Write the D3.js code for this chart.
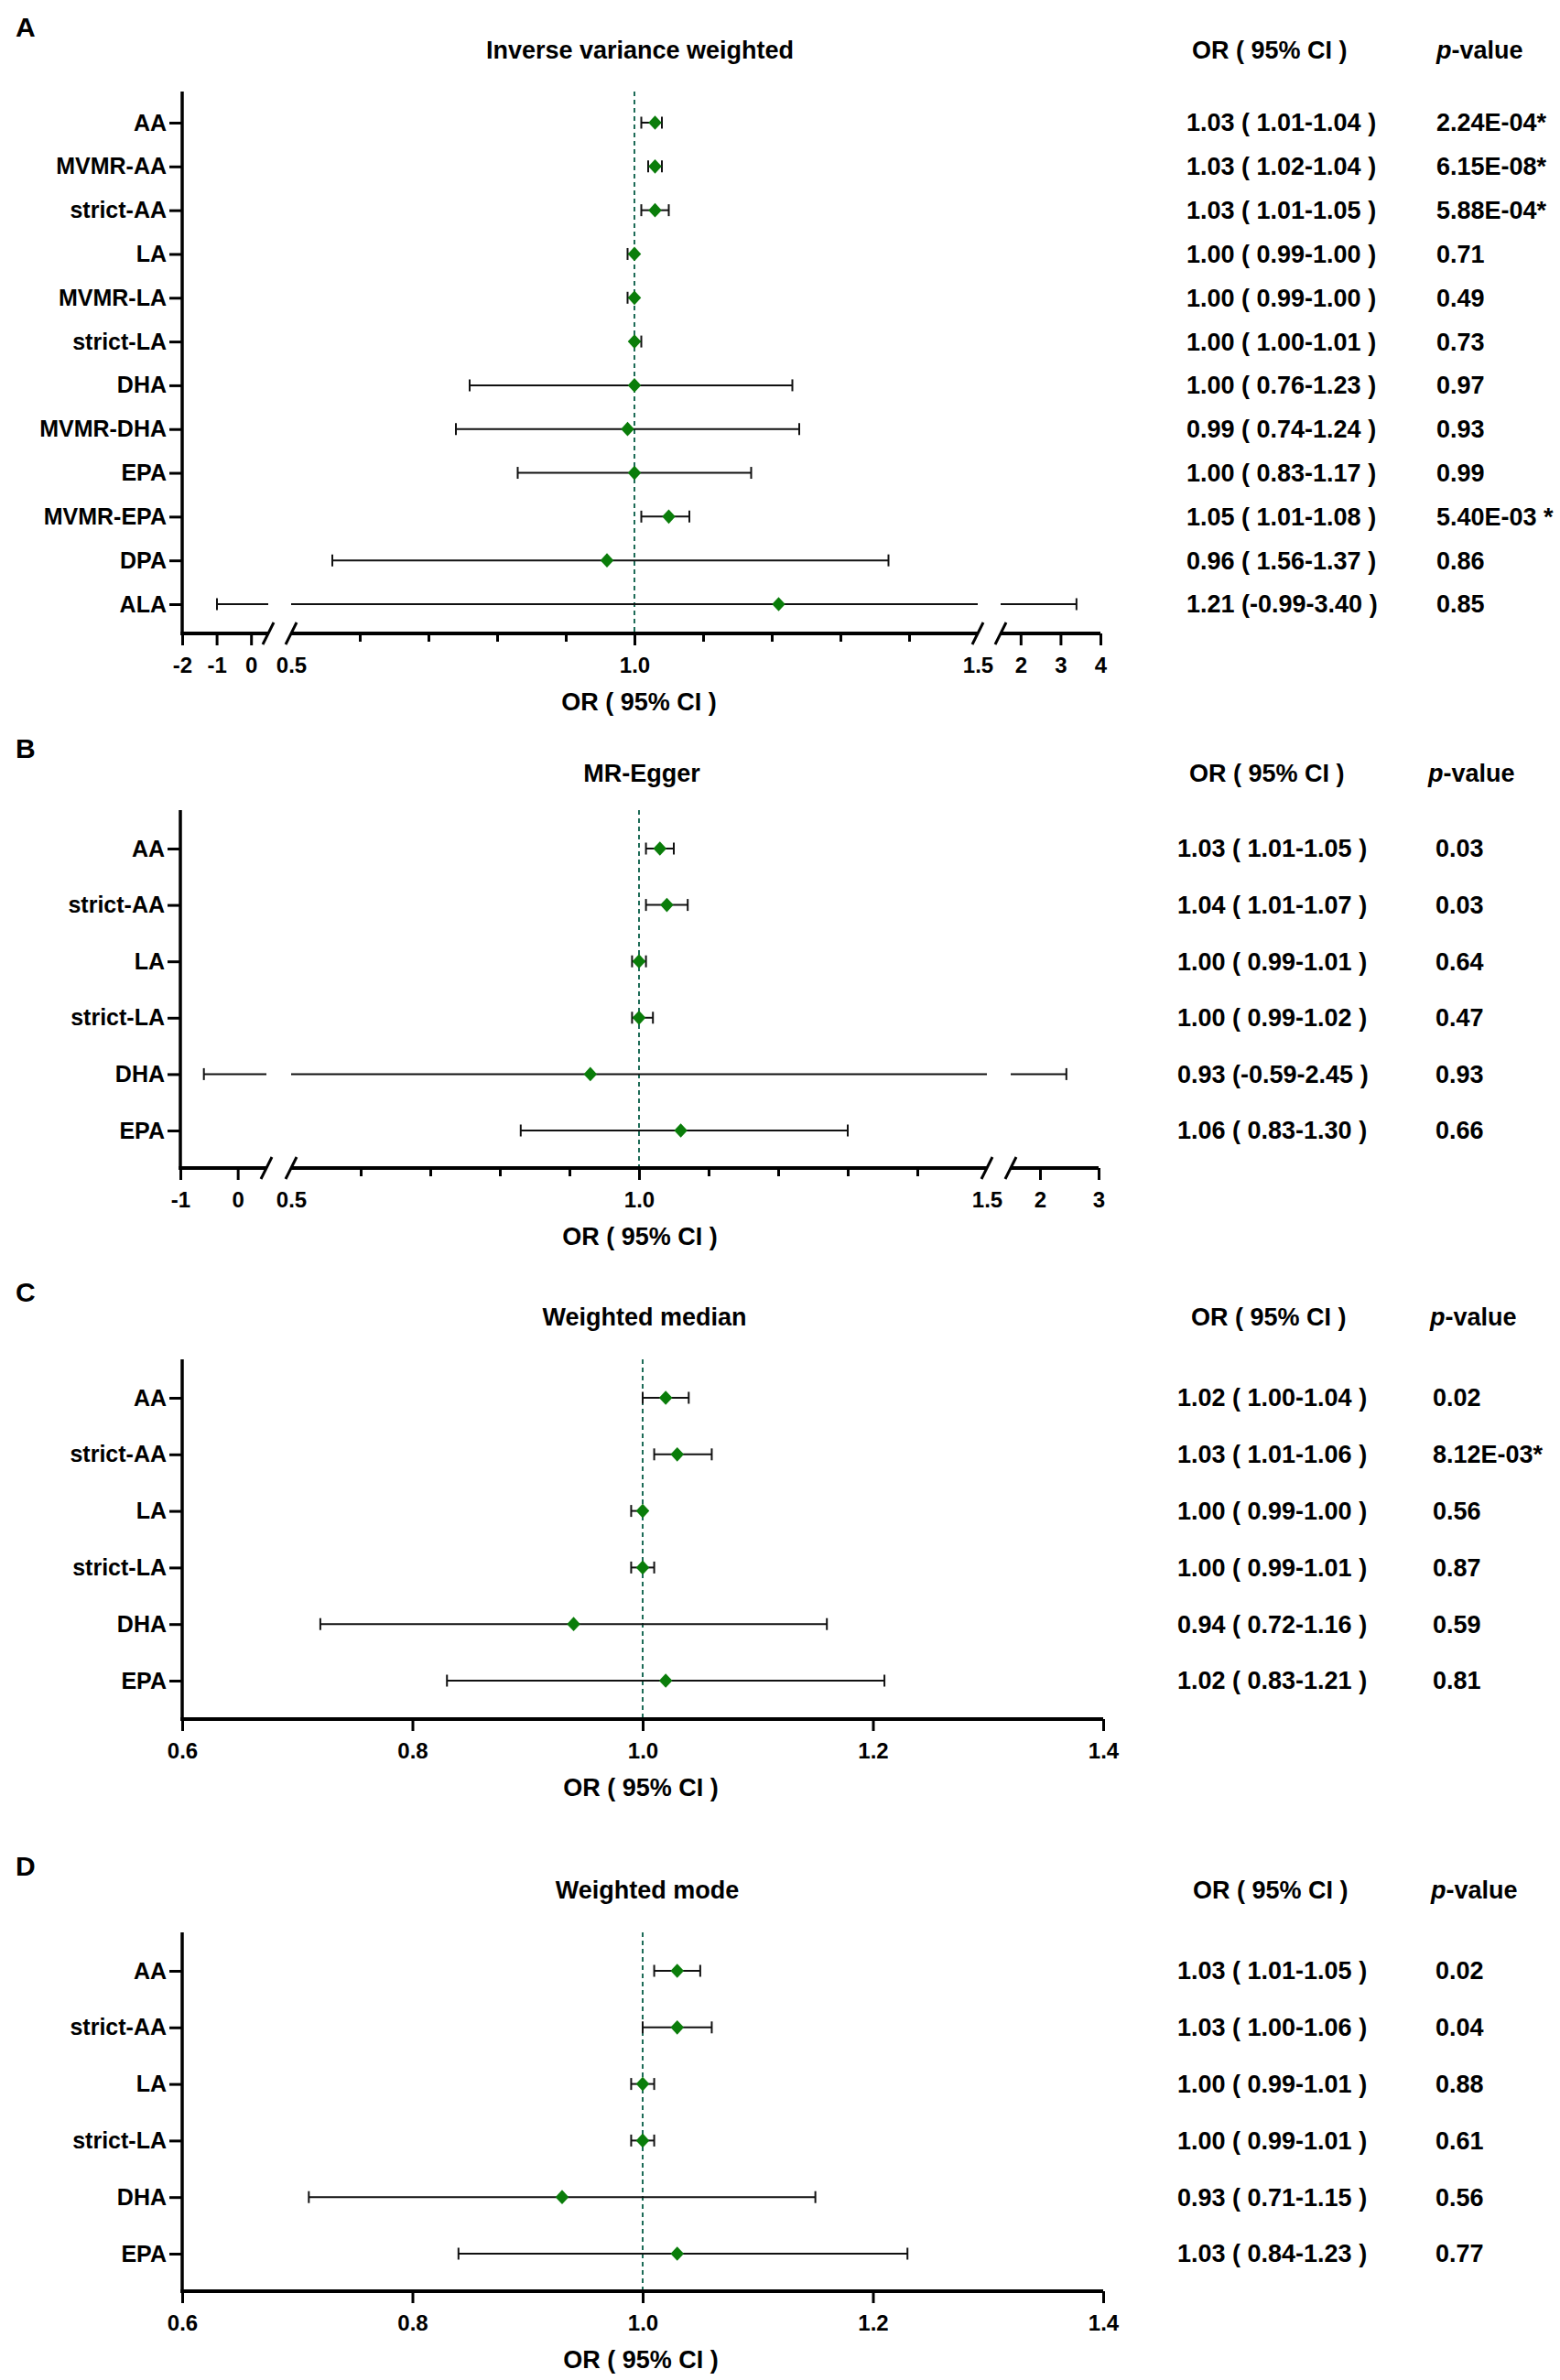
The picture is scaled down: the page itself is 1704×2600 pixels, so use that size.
<!DOCTYPE html>
<html><head><meta charset="utf-8">
<script src="https://cdn.jsdelivr.net/npm/d3@7"></script>
<style>
html,body{margin:0;padding:0;background:#fff;}
svg{display:block;}
text{font-family:"Liberation Sans",Arial,Helvetica,sans-serif;font-weight:bold;fill:#000;white-space:pre;}
</style></head><body>
<svg id="chart" width="1704" height="2600"></svg>
<script>
// ---------------- DATA ----------------
const panelLetters = ["A", "B", "C", "D"];
const titles = ["Inverse variance weighted", "MR-Egger", "Weighted median", "Weighted mode"];

// Panel A: Inverse variance weighted
const labelsA = ["AA", "MVMR-AA", "strict-AA", "LA", "MVMR-LA", "strict-LA", "DHA", "MVMR-DHA", "EPA", "MVMR-EPA", "DPA", "ALA"];
const orA = [1.03, 1.03, 1.03, 1.00, 1.00, 1.00, 1.00, 0.99, 1.00, 1.05, 0.96, 1.21];
const loA = [1.01, 1.02, 1.01, 0.99, 0.99, 1.00, 0.76, 0.74, 0.83, 1.01, 0.56, -0.99];
const hiA = [1.04, 1.04, 1.05, 1.00, 1.00, 1.01, 1.23, 1.24, 1.17, 1.08, 1.37, 3.40];
const orTextA = ["1.03 ( 1.01-1.04 )", "1.03 ( 1.02-1.04 )", "1.03 ( 1.01-1.05 )", "1.00 ( 0.99-1.00 )", "1.00 ( 0.99-1.00 )", "1.00 ( 1.00-1.01 )", "1.00 ( 0.76-1.23 )", "0.99 ( 0.74-1.24 )", "1.00 ( 0.83-1.17 )", "1.05 ( 1.01-1.08 )", "0.96 ( 1.56-1.37 )", "1.21 (-0.99-3.40 )"];
const pTextA = ["2.24E-04*", "6.15E-08*", "5.88E-04*", "0.71", "0.49", "0.73", "0.97", "0.93", "0.99", "5.40E-03 *", "0.86", "0.85"];

// Panels B, C, D share categories
const labelsBCD = ["AA", "strict-AA", "LA", "strict-LA", "DHA", "EPA"];

// Panel B: MR-Egger
const orB = [1.03, 1.04, 1.00, 1.00, 0.93, 1.06];
const loB = [1.01, 1.01, 0.99, 0.99, -0.59, 0.83];
const hiB = [1.05, 1.07, 1.01, 1.02, 2.45, 1.30];
const orTextB = ["1.03 ( 1.01-1.05 )", "1.04 ( 1.01-1.07 )", "1.00 ( 0.99-1.01 )", "1.00 ( 0.99-1.02 )", "0.93 (-0.59-2.45 )", "1.06 ( 0.83-1.30 )"];
const pTextB = ["0.03", "0.03", "0.64", "0.47", "0.93", "0.66"];

// Panel C: Weighted median
const orC = [1.02, 1.03, 1.00, 1.00, 0.94, 1.02];
const loC = [1.00, 1.01, 0.99, 0.99, 0.72, 0.83];
const hiC = [1.04, 1.06, 1.00, 1.01, 1.16, 1.21];
const orTextC = ["1.02 ( 1.00-1.04 )", "1.03 ( 1.01-1.06 )", "1.00 ( 0.99-1.00 )", "1.00 ( 0.99-1.01 )", "0.94 ( 0.72-1.16 )", "1.02 ( 0.83-1.21 )"];
const pTextC = ["0.02", "8.12E-03*", "0.56", "0.87", "0.59", "0.81"];

// Panel D: Weighted mode
const orD = [1.03, 1.03, 1.00, 1.00, 0.93, 1.03];
const loD = [1.01, 1.00, 0.99, 0.99, 0.71, 0.84];
const hiD = [1.05, 1.06, 1.01, 1.01, 1.15, 1.23];
const orTextD = ["1.03 ( 1.01-1.05 )", "1.03 ( 1.00-1.06 )", "1.00 ( 0.99-1.01 )", "1.00 ( 0.99-1.01 )", "0.93 ( 0.71-1.15 )", "1.03 ( 0.84-1.23 )"];
const pTextD = ["0.02", "0.04", "0.88", "0.61", "0.56", "0.77"];

// Axis segments (broken axes) and tick labels
const segDomainsA = [[-2, 0.5], [0.5, 1.5], [1.5, 4]];
const tickValuesA = [-2, -1, 0, 0.5, 1.0, 1.5, 2, 3, 4];
const tickLabelsA = ["-2", "-1", "0", "0.5", "1.0", "1.5", "2", "3", "4"];
const segDomainsB = [[-1, 0.5], [0.5, 1.5], [1.5, 3]];
const tickValuesB = [-1, 0, 0.5, 1.0, 1.5, 2, 3];
const tickLabelsB = ["-1", "0", "0.5", "1.0", "1.5", "2", "3"];
const minorTicksAB = [0.6, 0.7, 0.8, 0.9, 1.1, 1.2, 1.3, 1.4];
const breakTicks = [0.5, 1.5];   // labelled, no tick mark (axis break)
const segDomainsCD = [[0.6, 1.4]];
const tickValuesCD = [0.6, 0.8, 1.0, 1.2, 1.4];
const tickLabelsCD = ["0.6", "0.8", "1.0", "1.2", "1.4"];
const refValue = 1.0;

// ---------------- LAYOUT ----------------
const layouts = [
  {letterY: 29, titleX: 699, titleY: 55, top: 100, firstRow: 134, lastRow: 660, axisY: 692, axisX: 199,
   ranges: [[199, 293], [318, 1068], [1093, 1202]], valX: 1296, pX: 1569, headX: 1302, pHeadX: 1569, axisLabelX: 698},
  {letterY: 817, titleX: 701, titleY: 845, top: 885, firstRow: 927, lastRow: 1235, axisY: 1276, axisX: 197,
   ranges: [[197, 291], [318, 1078], [1104, 1200]], valX: 1286, pX: 1568, headX: 1299, pHeadX: 1560, axisLabelX: 699},
  {letterY: 1411, titleX: 704, titleY: 1439, top: 1485, firstRow: 1527, lastRow: 1836, axisY: 1878, axisX: 199,
   ranges: [[199, 1205]], valX: 1286, pX: 1565, headX: 1301, pHeadX: 1562, axisLabelX: 700},
  {letterY: 2038, titleX: 707, titleY: 2065, top: 2111, firstRow: 2153, lastRow: 2462, axisY: 2503, axisX: 199,
   ranges: [[199, 1205]], valX: 1286, pX: 1568, headX: 1303, pHeadX: 1563, axisLabelX: 700}
];

const panels = [
  {labels: labelsA, or: orA, lo: loA, hi: hiA, orText: orTextA, pText: pTextA, doms: segDomainsA, tv: tickValuesA, tl: tickLabelsA, minor: minorTicksAB},
  {labels: labelsBCD, or: orB, lo: loB, hi: hiB, orText: orTextB, pText: pTextB, doms: segDomainsB, tv: tickValuesB, tl: tickLabelsB, minor: minorTicksAB},
  {labels: labelsBCD, or: orC, lo: loC, hi: hiC, orText: orTextC, pText: pTextC, doms: segDomainsCD, tv: tickValuesCD, tl: tickLabelsCD, minor: []},
  {labels: labelsBCD, or: orD, lo: loD, hi: hiD, orText: orTextD, pText: pTextD, doms: segDomainsCD, tv: tickValuesCD, tl: tickLabelsCD, minor: []}
];

const GREEN = "#0a7d0a";
const REF = "#1d6b57";
const BAR = "#111";

const svg = d3.select("#chart");
svg.append("rect").attr("width", 1704).attr("height", 2600).attr("fill", "#fff");

panels.forEach((P, pi) => {
  const L = layouts[pi];
  const g = svg.append("g");
  const nSeg = P.doms.length;
  const segs = P.doms.map((d, i) => d3.scaleLinear().domain(d).range(L.ranges[i]));
  const segIndex = v => {
    if (nSeg === 3) { if (v < P.doms[1][0]) return 0; if (v > P.doms[1][1]) return 2; return 1; }
    return 0;
  };
  const x = v => segs[segIndex(v)](v);
  const y = d3.scalePoint().domain(P.labels).range([L.firstRow, L.lastRow]);

  // panel letter
  g.append("text").attr("x", 17).attr("y", L.letterY).attr("dy", "0.35em")
    .style("font-size", "30px").text(panelLetters[pi]);
  // title
  g.append("text").attr("x", L.titleX).attr("y", L.titleY).attr("dy", "0.35em")
    .attr("text-anchor", "middle").style("font-size", "27px").text(titles[pi]);
  // headers
  g.append("text").attr("x", L.headX).attr("y", L.titleY).attr("dy", "0.35em")
    .style("font-size", "27px").text("OR ( 95% CI )");
  const ph = g.append("text").attr("x", L.pHeadX).attr("y", L.titleY).attr("dy", "0.35em").style("font-size", "27px");
  ph.append("tspan").style("font-style", "italic").text("p");
  ph.append("tspan").text("-value");

  // reference dashed line
  g.append("line").attr("x1", x(refValue)).attr("x2", x(refValue))
    .attr("y1", L.top).attr("y2", L.axisY)
    .attr("stroke", REF).attr("stroke-width", 2).attr("stroke-dasharray", "5,4");

  // error bars (split across axis segments)
  P.labels.forEach((lab, i) => {
    const lo = P.lo[i], hi = P.hi[i], yy = y(lab);
    P.doms.forEach((d, s) => {
      const a = Math.max(lo, d[0]), b = Math.min(hi, d[1]);
      if (b > a) {
        g.append("line").attr("x1", segs[s](a)).attr("x2", segs[s](b))
          .attr("y1", yy).attr("y2", yy).attr("stroke", BAR).attr("stroke-width", 2);
      }
    });
    [lo, hi].forEach(v => {
      g.append("line").attr("x1", x(v)).attr("x2", x(v)).attr("y1", yy - 6.5).attr("y2", yy + 6.5)
        .attr("stroke", BAR).attr("stroke-width", 2);
    });
  });
  // diamonds
  const sym = d3.symbol().type(d3.symbolSquare).size(106);
  P.labels.forEach((lab, i) => {
    g.append("path").attr("d", sym())
      .attr("transform", `translate(${x(P.or[i])},${y(lab)}) scale(1,1.08) rotate(45)`)
      .attr("fill", GREEN);
  });

  // y axis
  const yAxis = g.append("g").attr("transform", `translate(${L.axisX},0)`)
    .call(d3.axisLeft(y).tickSize(14).tickPadding(3));
  yAxis.select(".domain").remove();
  yAxis.selectAll(".tick line").attr("stroke", "#000").attr("stroke-width", 3);
  yAxis.selectAll(".tick text").style("font-size", "25px").attr("fill", "#000");
  g.append("line").attr("x1", L.axisX).attr("x2", L.axisX).attr("y1", L.top).attr("y2", L.axisY + 2)
    .attr("stroke", "#000").attr("stroke-width", 3.5);

  // x axis segments
  segs.forEach((sc, s) => {
    const d = P.doms[s];
    const r = L.ranges[s];
    g.append("line").attr("x1", s === 0 ? r[0] - 1.75 : r[0]).attr("x2", r[1])
      .attr("y1", L.axisY).attr("y2", L.axisY).attr("stroke", "#000").attr("stroke-width", 4);
    // major ticks & labels
    const tvs = P.tv.filter(v => {
      const k = nSeg === 3 ? segIndex(v) : 0;
      return k === s;
    });
    const ax = g.append("g").attr("transform", `translate(0,${L.axisY})`)
      .call(d3.axisBottom(sc).tickValues(tvs).tickSize(13).tickPadding(13)
        .tickFormat(v => P.tl[P.tv.indexOf(v)]));
    ax.select(".domain").remove();
    ax.selectAll(".tick line").attr("stroke", "#000").attr("stroke-width", 3);
    ax.selectAll(".tick").filter(v => nSeg === 3 && breakTicks.includes(v)).select("line").remove();
    ax.selectAll(".tick text").style("font-size", "24px").attr("fill", "#000");
    // minor ticks
    const mins = P.minor.filter(v => v > d[0] && v < d[1]);
    if (mins.length) {
      const mx = g.append("g").attr("transform", `translate(0,${L.axisY})`)
        .call(d3.axisBottom(sc).tickValues(mins).tickSize(9).tickFormat(""));
      mx.select(".domain").remove();
      mx.selectAll(".tick line").attr("stroke", "#000").attr("stroke-width", 3);
    }
  });
  // break marks
  if (nSeg === 3) {
    [L.ranges[0][1], L.ranges[1][0], L.ranges[1][1], L.ranges[2][0]].forEach(bx => {
      g.append("line").attr("x1", bx - 6).attr("y1", L.axisY + 12).attr("x2", bx + 6).attr("y2", L.axisY - 12)
        .attr("stroke", "#000").attr("stroke-width", 3);
    });
  }
  // axis label
  g.append("text").attr("x", L.axisLabelX).attr("y", L.axisY + 75).attr("dy", "0.35em")
    .attr("text-anchor", "middle").style("font-size", "27px").text("OR ( 95% CI )");

  // right-hand text columns
  P.labels.forEach((lab, i) => {
    g.append("text").attr("x", L.valX).attr("y", y(lab)).attr("dy", "0.35em")
      .style("font-size", "27px").text(P.orText[i]);
    g.append("text").attr("x", L.pX).attr("y", y(lab)).attr("dy", "0.35em")
      .style("font-size", "27px").text(P.pText[i]);
  });
});
</script>
</body></html>
